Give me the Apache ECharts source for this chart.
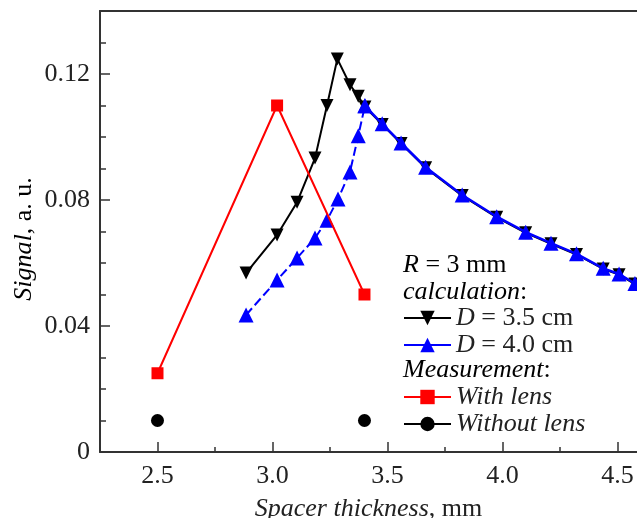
<!DOCTYPE html>
<html>
<head>
<meta charset="utf-8">
<script src="https://cdn.jsdelivr.net/npm/echarts@6/dist/echarts.min.js"></script>
<style>
html,body{margin:0;padding:0;background:#fff;}
#chart{width:637px;height:518px;}
</style>
</head>
<body>
<div id="chart"></div>
<script>
// ---- data ----
const xD35 = [2.885, 3.02, 3.107, 3.185, 3.237, 3.282, 3.337, 3.373, 3.402, 3.477, 3.559, 3.666, 3.825, 3.975, 4.101, 4.211, 4.322, 4.438, 4.507, 4.576];
const yD35 = [0.0568, 0.0689, 0.0793, 0.0933, 0.110, 0.1248, 0.1166, 0.1129, 0.1095, 0.1040, 0.0979, 0.0902, 0.0814, 0.0745, 0.0696, 0.0661, 0.0627, 0.0581, 0.0563, 0.0533];
const xD40 = [2.885, 3.02, 3.107, 3.185, 3.237, 3.285, 3.337, 3.373, 3.402, 3.477, 3.559, 3.666, 3.825, 3.975, 4.101, 4.211, 4.322, 4.438, 4.507, 4.576];
const yD40 = [0.0435, 0.0546, 0.0616, 0.0679, 0.0736, 0.0803, 0.0889, 0.1004, 0.1099, 0.1042, 0.0981, 0.0904, 0.0816, 0.0747, 0.0698, 0.0663, 0.0629, 0.0583, 0.0565, 0.0535];
const xLens = [2.5, 3.02, 3.4];
const yLens = [0.025, 0.110, 0.050];
const xNoLens = [2.5, 3.4];
const yNoLens = [0.010, 0.010];
const xMajorTicks = [2.5, 3.0, 3.5, 4.0, 4.5];
const xMinorTicks = [2.25, 2.75, 3.25, 3.75, 4.25];
const yMajorTicks = [0, 0.04, 0.08, 0.12];
const yMinorTicks = [0.01, 0.02, 0.03, 0.05, 0.06, 0.07, 0.09, 0.10, 0.11, 0.13];
const peakIndexD40 = 8; // split between dashed rising part and solid falling part

const zip = (xs, ys) => xs.map((x, i) => [x, ys[i]]);

const FONT = 'Liberation Serif';
const FS = 26;
const TXT = '#222';
const AX = '#333';

const chart = echarts.init(document.getElementById('chart'), null, {renderer: 'canvas'});

const richBase = {
  i: {fontFamily: FONT, fontSize: FS, fontStyle: 'italic', color: TXT},
  n: {fontFamily: FONT, fontSize: FS, color: TXT}
};

function legendAt(name, top) {
  return {
    data: [name],
    orient: 'vertical',
    left: 403,
    top: top,
    padding: 0,
    itemWidth: 47,
    itemHeight: 18,
    selectedMode: false,
    textStyle: {fontFamily: FONT, fontSize: FS, color: TXT, lineHeight: 26, rich: richBase},
    formatter: function (n) {
      if (n === 'D = 3.5 cm') return '{i|D}{n| = 3.5 cm}';
      if (n === 'D = 4.0 cm') return '{i|D}{n| = 4.0 cm}';
      return '{i|' + n + '}';
    }
  };
}

const legendNoLens = legendAt('Without lens', 411);
legendNoLens.data = [{name: 'Without lens', lineStyle: {color: '#000', width: 2, opacity: 1}}];

const option = {
  animation: false,
  backgroundColor: '#fff',
  grid: {left: 100, right: 0, top: 11, bottom: 66, containLabel: false, outerBoundsMode: 'none'},
  xAxis: [
    {
      type: 'value', min: 2.25, max: 4.585, position: 'bottom',
      name: '{i|Spacer thickness}{n|, mm}', nameLocation: 'middle', nameGap: 44,
      nameTextStyle: {rich: richBase},
      axisLine: {show: true, onZero: false, lineStyle: {color: AX, width: 2}},
      axisTick: {show: true, inside: true, length: 10, customValues: xMajorTicks, lineStyle: {color: AX, width: 1.5}},
      axisLabel: {show: true, customValues: xMajorTicks, formatter: v => v.toFixed(1), fontFamily: FONT, fontSize: FS, color: TXT, margin: 11},
      splitLine: {show: false}
    },
    {
      type: 'value', min: 2.25, max: 4.585, position: 'bottom', gridIndex: 0,
      axisLine: {show: false},
      axisTick: {show: true, inside: true, length: 5, customValues: xMinorTicks, lineStyle: {color: AX, width: 1.5}},
      axisLabel: {show: false},
      splitLine: {show: false}
    },
    {
      type: 'value', min: 2.25, max: 4.585, position: 'top',
      axisLine: {show: true, onZero: false, lineStyle: {color: AX, width: 2}},
      axisTick: {show: false}, axisLabel: {show: false}, splitLine: {show: false}
    }
  ],
  yAxis: [
    {
      type: 'value', min: 0, max: 0.14, position: 'left',
      axisLine: {show: true, onZero: false, lineStyle: {color: AX, width: 2}},
      axisTick: {show: true, inside: true, length: 10, customValues: yMajorTicks, lineStyle: {color: AX, width: 1.5}},
      axisLabel: {show: true, customValues: yMajorTicks, formatter: v => (v === 0 ? '0' : v.toFixed(2)), fontFamily: FONT, fontSize: FS, color: TXT, margin: 10},
      splitLine: {show: false}
    },
    {
      type: 'value', min: 0, max: 0.14, position: 'left',
      axisLine: {show: false},
      axisTick: {show: true, inside: true, length: 6, customValues: yMinorTicks, lineStyle: {color: AX, width: 1.5}},
      axisLabel: {show: false}, splitLine: {show: false}
    }
  ],
  legend: [
    legendAt('D = 3.5 cm', 305),
    legendAt('D = 4.0 cm', 332),
    legendAt('With lens', 384),
    legendNoLens
  ],
  graphic: [
    {type: 'text', x: 24, y: 239, rotation: Math.PI / 2,
     style: {text: '{i|Signal}{n|, a. u.}', rich: richBase, font: FS + 'px ' + FONT, align: 'center', verticalAlign: 'middle'}},
    {type: 'text', left: 403, top: 252, style: {text: '{i|R}{n| = 3 mm}', rich: richBase, font: FS + 'px ' + FONT}},
    {type: 'text', left: 403, top: 279, style: {text: '{i|calculation}{n|:}', rich: richBase, font: FS + 'px ' + FONT}},
    {type: 'text', left: 403, top: 357, style: {text: '{i|Measurement}{n|:}', rich: richBase, font: FS + 'px ' + FONT}}
  ],
  series: [
    {
      name: 'D = 3.5 cm', type: 'line', data: zip(xD35, yD35),
      symbol: 'triangle', symbolRotate: 180, symbolSize: 13,
      itemStyle: {color: '#000'}, lineStyle: {color: '#000', width: 2}, z: 2
    },
    {
      name: 'D40rise', type: 'line', data: zip(xD40.slice(0, peakIndexD40 + 1), yD40.slice(0, peakIndexD40 + 1)),
      symbol: 'triangle', symbolSize: 15,
      itemStyle: {color: '#0000ff'}, lineStyle: {color: '#0000ff', width: 2, type: [9, 4]}, z: 3
    },
    {
      name: 'D = 4.0 cm', type: 'line', data: zip(xD40.slice(peakIndexD40), yD40.slice(peakIndexD40)),
      symbol: 'triangle', symbolSize: 15,
      itemStyle: {color: '#0000ff'}, lineStyle: {color: '#0000ff', width: 2.5}, z: 3
    },
    {
      name: 'With lens', type: 'line', data: zip(xLens, yLens),
      symbol: 'rect', symbolSize: 12,
      itemStyle: {color: '#ff0000'}, lineStyle: {color: '#ff0000', width: 2}, z: 4
    },
    {
      name: 'Without lens', type: 'line', data: zip(xNoLens, yNoLens),
      symbol: 'circle', symbolSize: 13,
      itemStyle: {color: '#000'}, lineStyle: {color: '#000', width: 2, opacity: 0}, z: 4
    }
  ]
};
chart.setOption(option);
</script>
</body>
</html>
